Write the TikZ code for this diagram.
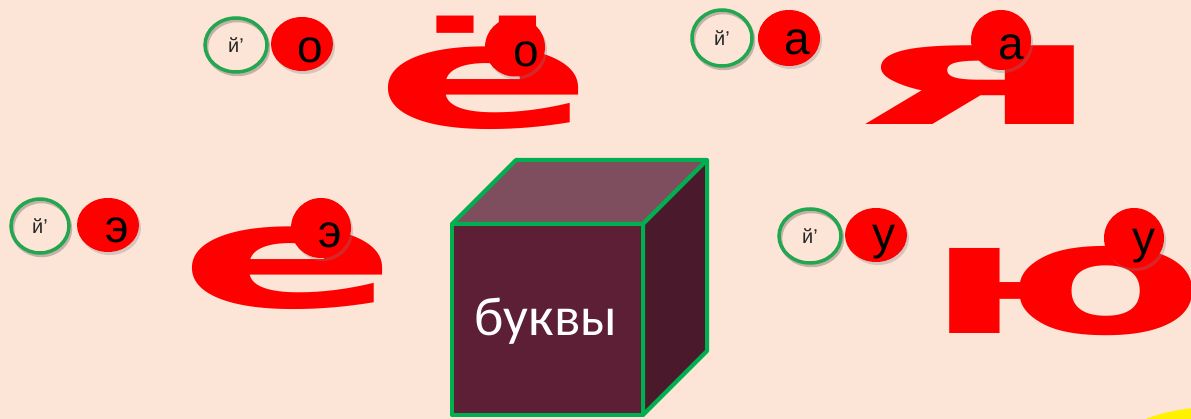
\documentclass[tikz,border=0pt]{standalone}
\usepackage{fontspec}
\setmainfont{Liberation Sans}
\newfontfamily\bigfont{DejaVu Sans}
\newfontfamily\cubefont{Carlito}
\usetikzlibrary{shadows}
\definecolor{bg}{RGB}{252,228,214}
\definecolor{ringgreen}{RGB}{34,166,80}
\definecolor{cubegreen}{RGB}{0,176,80}
\definecolor{cubefront}{RGB}{92,31,53}
\definecolor{cubetop}{RGB}{126,78,94}
\definecolor{cuberight}{RGB}{74,26,44}
\tikzset{
  bigletter/.style={anchor=base west, inner sep=0pt, text=red, font=\bigfont\bfseries\fontsize{144}{144}\selectfont},
  ring/.style={draw=ringgreen, line width=3.5pt,
    preaction={draw=black, draw opacity=0.22, line width=3.5pt, transform canvas={shift={(1.5,2.5)}}}},
  redball/.style={fill=red, drop shadow={opacity=0.3, shadow xshift=2pt, shadow yshift=-3pt}},
  smallletter/.style={anchor=base, inner sep=0pt, text=black, font=\fontsize{46}{46}\selectfont},
  jlabel/.style={inner sep=0pt, text=black!85, font=\fontsize{20}{20}\selectfont}
}
\begin{document}
\begin{tikzpicture}[x=1pt,y=-1pt]
\useasboundingbox (0,0) rectangle (1191,419);
\fill[bg] (0,0) rectangle (1191,419);
% yellow blob
\fill[yellow] (1215,470) ellipse [x radius=118, y radius=63];

% big letters
\node[bigletter] (yo) at (374,128) {\scalebox{2.25}[1]{ё}};
\node[bigletter] (ya) at (853,125) {\scalebox{2.74}[1]{я}};
\node[bigletter] (ye) at (178,308) {\scalebox{2.25}[1]{е}};
\node[bigletter] (yu) at (925,334) {\scalebox{2.0}[1.08]{ю}};

% top-left group
\draw[ring] (236,45) ellipse [x radius=31, y radius=27];
\node[jlabel] (j1) at (236,45) {й’};
\path[redball] (302,44) ellipse [x radius=31, y radius=27];
\node[smallletter] (o1) at (310,63) {о};
\path[redball] (515,47) ellipse [x radius=30, y radius=29.5];
\node[smallletter] (o2) at (526,67) {о};

% top-right group
\draw[ring] (722,38) ellipse [x radius=30, y radius=28];
\node[jlabel] (j2) at (722,38) {й’};
\path[redball] (789,38) ellipse [x radius=31, y radius=28];
\node[smallletter] (a1) at (797,55) {а};
\path[redball] (1001,40) ellipse [x radius=30, y radius=30];
\node[smallletter] (a2) at (1011,60) {а};

% middle-left group
\draw[ring] (40,226) ellipse [x radius=29, y radius=27];
\node[jlabel] (j3) at (40,226) {й’};
\path[redball] (108,225) ellipse [x radius=31, y radius=27];
\node[smallletter] (e1) at (117,243) {э};
\path[redball] (321,228) ellipse [x radius=30, y radius=30];
\node[smallletter] (e2) at (330,248) {э};

% middle-right group
\draw[ring] (810,236) ellipse [x radius=31, y radius=27];
\node[jlabel] (j4) at (810,236) {й’};
\path[redball] (876,235) ellipse [x radius=31, y radius=27];
\node[smallletter] (u1) at (884,250) {у};
\path[redball] (1134,238) ellipse [x radius=30, y radius=30];
\node[smallletter] (u2) at (1144,254) {у};

% cube
\begin{scope}[line width=4pt, draw=cubegreen, line join=round]
\filldraw[fill=cubetop] (452,224) -- (516,160) -- (707,160) -- (643,224) -- cycle;
\filldraw[fill=cuberight] (643,224) -- (707,160) -- (707,351) -- (643,415) -- cycle;
\filldraw[fill=cubefront] (452,224) rectangle (643,415);
\end{scope}
\node[text=white, font=\cubefont\fontsize{55}{55}\selectfont, inner sep=0pt] (cubelabel) at (546,321) {буквы};
\end{tikzpicture}
\end{document}
